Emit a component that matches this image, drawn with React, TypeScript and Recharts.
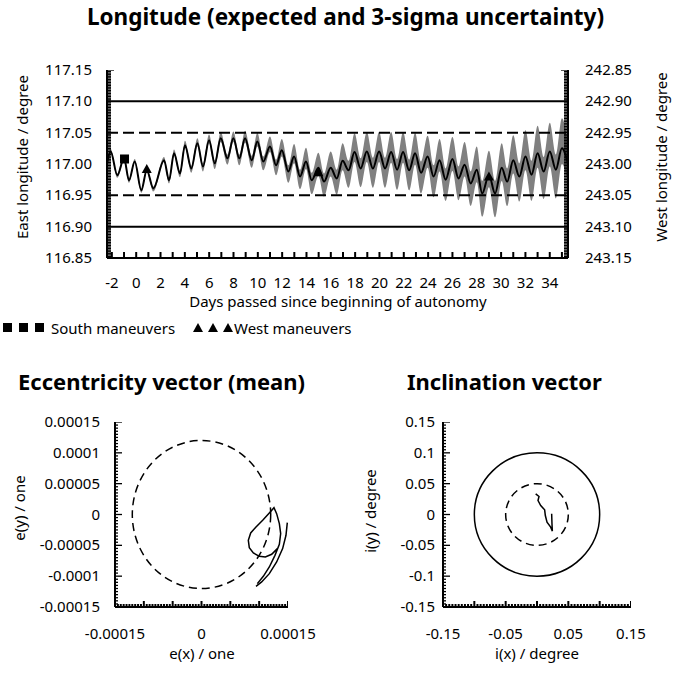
import React from "react";
import {
  Area,
  ComposedChart,
  Line,
  ReferenceArea,
  ReferenceLine,
  Scatter,
  XAxis,
  YAxis,
} from "recharts";

const FONT = "'Noto Sans', 'Open Sans', sans-serif";

// longitude: turning points of the daily oscillation (days since autonomy)
const days = [
  -2.4, -2.1, -1.55, -1.0, -0.59, -0.12, 0.42, 0.87, 1.41, 2.29,
  2.7, 3.11, 3.6, 4.01, 4.53, 5.03, 5.49, 5.99, 6.46, 6.95,
  7.5, 7.99, 8.48, 8.95, 9.5, 9.96, 10.45, 11.0, 11.5, 11.97,
  12.51, 12.98, 13.47, 13.96, 14.43, 14.98, 15.45, 15.99, 16.49, 16.97,
  17.46, 17.95, 18.45, 18.96, 19.46, 19.97, 20.46, 20.96, 21.45, 21.94,
  22.44, 22.93, 23.42, 23.96, 24.45, 24.94, 25.44, 26.0, 26.5, 27.0,
  27.5, 28.0, 28.45, 29.0, 29.5, 30.05, 30.5, 31.0, 31.5, 32.0,
  32.5, 33.0, 33.5, 34.0, 34.5, 35.0, 35.5,
];
const lonMean = [
  117.0, 117.02, 116.982, 117.009, 116.974, 117.004, 116.958, 116.99, 116.961, 117.006,
  116.974, 117.017, 116.985, 117.03, 116.993, 117.033, 116.996, 117.038, 117.001, 117.041,
  117.009, 117.041, 117.009, 117.041, 117.006, 117.036, 117.004, 117.028, 116.998, 117.022,
  116.988, 117.012, 116.98, 117.004, 116.974, 116.994, 116.972, 116.994, 116.977, 117.005,
  116.99, 117.019, 116.993, 117.02, 116.993, 117.02, 116.993, 117.019, 116.991, 117.019,
  116.99, 117.017, 116.986, 117.012, 116.98, 117.006, 116.975, 117.008, 116.977, 116.999,
  116.969, 116.991, 116.953, 116.983, 116.953, 116.994, 116.972, 117.006, 116.98, 117.012,
  116.983, 117.017, 116.988, 117.02, 116.991, 117.025, 117.0,
];
const lonHigh = [
  117.004, 117.024, 116.985, 117.013, 116.977, 117.008, 116.961, 116.994, 116.964, 117.011,
  116.977, 117.023, 116.989, 117.037, 116.997, 117.041, 117.001, 117.047, 117.006, 117.051,
  117.015, 117.052, 117.015, 117.053, 117.013, 117.05, 117.012, 117.044, 117.007, 117.04,
  116.998, 117.032, 116.991, 117.026, 116.986, 117.018, 116.985, 117.02, 116.991, 117.033,
  117.005, 117.049, 117.009, 117.051, 117.01, 117.051, 117.01, 117.051, 117.008, 117.051,
  117.007, 117.05, 117.004, 117.045, 116.998, 117.04, 116.993, 117.043, 116.996, 117.035,
  116.988, 117.028, 116.973, 117.021, 116.973, 117.033, 116.993, 117.046, 117.001, 117.054,
  117.005, 117.061, 117.011, 117.066, 117.015, 117.073, 117.03,
];
const lonLow = [
  116.996, 117.017, 116.978, 117.006, 116.97, 117.001, 116.954, 116.987, 116.956, 117.003,
  116.969, 117.013, 116.979, 117.026, 116.986, 117.028, 116.988, 117.033, 116.992, 117.035,
  116.999, 117.035, 116.998, 117.034, 116.994, 117.028, 116.99, 117.019, 116.982, 117.012,
  116.97, 117.001, 116.96, 116.992, 116.952, 116.981, 116.948, 116.98, 116.951, 116.99,
  116.962, 117.003, 116.963, 117.003, 116.962, 117.003, 116.962, 117.002, 116.959, 117.002,
  116.958, 116.999, 116.953, 116.994, 116.947, 116.988, 116.941, 116.989, 116.942, 116.98,
  116.933, 116.971, 116.916, 116.963, 116.915, 116.973, 116.933, 116.985, 116.94, 116.99,
  116.941, 116.994, 116.944, 116.996, 116.945, 117.0, 116.97,
];

const southDays = [-0.96];
const southLon = [117.008];
const westDays = [0.87, 14.98, 29.0];
const westLon = [116.992, 116.987, 116.98];

const dayDomain = [-2.4, 35.5];
const eastDomain = [116.85, 117.15];
const westDomain = [242.85, 243.15];
const eastLabels = [116.85, 116.9, 116.95, 117.0, 117.05, 117.1, 117.15];
const westLabels = [242.85, 242.9, 242.95, 243.0, 243.05, 243.1, 243.15];
const dayLabels = [-2, 0, 2, 4, 6, 8, 10, 12, 14, 16, 18, 20, 22, 24, 26, 28, 30, 32, 34];

// eccentricity vector (mean)
const eccX1 = [
  9.68e-5, 1.072e-4, 1.176e-4, 1.274e-4, 1.35e-4, 1.373e-4, 1.35e-4, 1.303e-4, 1.257e-4, 1.176e-4,
  1.061e-4, 9.45e-5, 8.53e-5, 8.12e-5, 8.29e-5, 8.99e-5, 1.003e-4, 1.107e-4, 1.217e-4, 1.315e-4,
];
const eccY1 = [
  -1.121e-4, -1.002e-4, -8.51e-5, -6.62e-5, -4.83e-5, -3.1e-5, -1.48e-5, 1.4e-6, 1.11e-5, 2.5e-6,
  -9.4e-6, -2.02e-5, -2.99e-5, -4.18e-5, -5.37e-5, -6.24e-5, -6.78e-5, -6.89e-5, -6.45e-5, -5.53e-5,
];
const eccX2 = [1.488e-4, 1.465e-4, 1.407e-4, 1.303e-4, 1.176e-4, 1.043e-4, 9.45e-5];
const eccY2 = [-1.32e-5, -3.37e-5, -5.53e-5, -7.7e-5, -9.59e-5, -1.094e-4, -1.164e-4];
const eccLimit = 0.00012;
const eccMajor = [-0.00015, -0.0001, -0.00005, 0, 0.00005, 0.0001, 0.00015];
const eccXLabels = [-0.00015, 0, 0.00015];

// inclination vector
const incX = [-0.0021, 0.0032, 0.0016, 0.0059, 0.0122, 0.0133, 0.016, 0.0218, 0.0245, 0.0239, 0.0234];
const incY = [0.0335, 0.0292, 0.0227, 0.0146, 0.0076, -0.0016, -0.0124, -0.0205, -0.027, -0.0151, 0.0011];
const incInner = 0.05;
const incOuter = 0.1;
const incMajor = [-0.15, -0.1, -0.05, 0, 0.05, 0.1, 0.15];
const incXLabels = [-0.15, -0.05, 0.05, 0.15];

function steps(from: number, to: number, step: number) {
  const n = Math.round((to - from) / step);
  return Array.from({ length: n + 1 }, (_, i) => +(from + i * step).toFixed(8));
}
const near = (v: number, list: number[]) => list.some((m) => Math.abs(v - m) < 1e-9);

// tick labels only; the tick marks are drawn by scatter series below
function yLabel(side: "left" | "right", labels: number[], gap: number, fmt: (v: number) => string) {
  return (p: any) => {
    const v = p.payload.value;
    if (!near(v, labels)) return <g />;
    const dir = side === "left" ? 1 : -1;
    return (
      <text x={Number(p.x) - dir * gap} y={Number(p.y)} dy={5} textAnchor={side === "left" ? "end" : "start"} fontSize={15} fontFamily={FONT} fill="#000">
        {fmt(v)}
      </text>
    );
  };
}
function xLabel(labels: number[], dy: number, fmt: (v: number) => string) {
  return (p: any) => {
    const v = p.payload.value;
    if (!near(v, labels)) return <g />;
    return (
      <text x={Number(p.x)} y={Number(p.y) + dy} textAnchor="middle" fontSize={15} fontFamily={FONT} fill="#000">
        {fmt(v)}
      </text>
    );
  };
}

// inward tick marks, longer on major values
const hMark = (dir: number, key: string, major: number[], minorLen: number, majorLen: number) => (p: any) => {
  const len = near(p.payload?.[key], major) ? majorLen : minorLen;
  return <path d={`M${p.cx},${p.cy}H${p.cx + dir * len}`} stroke="#000" strokeWidth={1.3} fill="none" />;
};
const vMark = (key: string, major: number[], minorLen: number, majorLen: number) => (p: any) => {
  const len = near(p.payload?.[key], major) ? majorLen : minorLen;
  return <path d={`M${p.cx},${p.cy}V${p.cy - len}`} stroke="#000" strokeWidth={2} fill="none" />;
};

const ellipse = (dash?: string) => (p: any) => (
  <ellipse
    cx={p.x + p.width / 2}
    cy={p.y + p.height / 2}
    rx={Math.abs(p.width) / 2}
    ry={Math.abs(p.height) / 2}
    fill="none"
    stroke="#000"
    strokeWidth={1.5}
    strokeDasharray={dash}
  />
);

const squareMark = (p: any) => <rect x={p.cx - 4.5} y={p.cy - 4.5} width={9} height={9} fill="#000" />;
const triMark = (p: any) => (
  <polygon points={`${p.cx - 5},${p.cy + 4} ${p.cx + 5},${p.cy + 4} ${p.cx},${p.cy - 5}`} fill="#000" />
);

function VLabel({ x, y, text }: { x: number; y: number; text: string }) {
  return (
    <div style={{ position: "absolute", left: x, top: y, transform: "translate(-50%, -50%) rotate(-90deg)", whiteSpace: "nowrap", fontSize: 15, lineHeight: "16px" }}>
      {text}
    </div>
  );
}
function HLabel({ x, y, text }: { x: number; y: number; text: string }) {
  return (
    <div style={{ position: "absolute", left: x, top: y, transform: "translate(-50%, -50%)", whiteSpace: "nowrap", fontSize: 15, lineHeight: "16px" }}>
      {text}
    </div>
  );
}

const axisLine = { stroke: "#000", strokeWidth: 2 };
const subTitle = { position: "absolute" as const, top: 367, fontSize: 22, fontWeight: 700, lineHeight: "28px", whiteSpace: "nowrap" as const };
const axisCommon = { type: "number" as const, allowDataOverflow: true, interval: 0 as const, tickSize: 0, tickMargin: 0, tickLine: false, axisLine };

export default function App() {
  const lonRows = days.map((d, i) => ({ day: d, mean: lonMean[i], band: [lonLow[i], lonHigh[i]] }));
  const southRows = southDays.map((d, i) => ({ day: d, lon: southLon[i] }));
  const westRows = westDays.map((d, i) => ({ day: d, lon: westLon[i] }));
  const eccPath1 = eccX1.map((x, i) => ({ x, y: eccY1[i] }));
  const eccPath2 = eccX2.map((x, i) => ({ x, y: eccY2[i] }));
  const incPath = incX.map((x, i) => ({ x, y: incY[i] }));

  const eastTicks = steps(eastDomain[0], eastDomain[1], 0.0025);
  const westTicks = steps(westDomain[0], westDomain[1], 0.0025);
  const dayTicks = steps(-2, 35, 1);
  const eccTicks = steps(-0.00015, 0.00015, 0.000005);
  const incTicks = steps(-0.15, 0.15, 0.005);

  return (
    <div style={{ position: "absolute", left: 0, top: 0, width: 691, height: 676, background: "#fff", fontFamily: FONT, color: "#000", overflow: "hidden" }}>
      <div style={{ position: "absolute", left: 0, top: 3, width: 691, textAlign: "center", fontSize: 22.5, fontWeight: 700, lineHeight: "28px" }}>
        Longitude (expected and 3-sigma uncertainty)
      </div>

      <div style={{ position: "absolute", left: 0, top: 0 }}>
        <ComposedChart width={691} height={300} data={lonRows} margin={{ top: 70, right: 63, bottom: 12, left: 47 }}>
          <XAxis {...axisCommon} dataKey="day" domain={dayDomain} ticks={dayTicks} height={30} tick={xLabel(dayLabels, 30, (v) => String(v))} />
          <YAxis {...axisCommon} yAxisId="east" domain={eastDomain} ticks={eastTicks} width={60} tick={yLabel("left", eastLabels, 15, (v) => v.toFixed(2))} />
          <YAxis {...axisCommon} yAxisId="west" orientation="right" reversed domain={westDomain} ticks={westTicks} width={60} tick={yLabel("right", westLabels, 17, (v) => v.toFixed(2))} />
          <Area yAxisId="east" dataKey="band" type="monotone" fill="#808080" fillOpacity={1} stroke="none" isAnimationActive={false} />
          <ReferenceLine yAxisId="east" y={117.1} stroke="#000" strokeWidth={2} />
          <ReferenceLine yAxisId="east" y={116.9} stroke="#000" strokeWidth={2} />
          <ReferenceLine yAxisId="east" y={117.05} stroke="#000" strokeWidth={2} strokeDasharray="11 5" />
          <ReferenceLine yAxisId="east" y={116.95} stroke="#000" strokeWidth={2} strokeDasharray="11 5" />
          <Line yAxisId="east" dataKey="mean" type="monotone" stroke="#000" strokeWidth={2} dot={false} isAnimationActive={false} />
          <Scatter yAxisId="east" data={southRows} dataKey="lon" shape={squareMark} isAnimationActive={false} />
          <Scatter yAxisId="east" data={westRows} dataKey="lon" shape={triMark} isAnimationActive={false} />
          <Scatter yAxisId="east" data={eastTicks.map((v) => ({ day: dayDomain[0], lon: v }))} dataKey="lon" shape={hMark(1, "lon", eastDomain, 4, 7)} isAnimationActive={false} />
          <Scatter yAxisId="west" data={westTicks.map((v) => ({ day: dayDomain[1], lon: v }))} dataKey="lon" shape={hMark(-1, "lon", westDomain, 4, 7)} isAnimationActive={false} />
          <Scatter yAxisId="east" data={dayTicks.map((d) => ({ day: d, lon: eastDomain[0] }))} dataKey="lon" shape={vMark("day", dayTicks, 6, 6)} isAnimationActive={false} />
        </ComposedChart>
      </div>

      <VLabel x={22} y={157} text="East longitude / degree" />
      <VLabel x={661} y={157} text="West longitude / degree" />
      <HLabel x={338} y={301} text="Days passed since beginning of autonomy" />

      <div style={{ position: "absolute", left: 3, top: 318, height: 19, display: "flex", alignItems: "center", fontSize: 15, whiteSpace: "nowrap" }}>
        {[0, 1, 2].map((i) => (
          <span key={i} style={{ display: "inline-block", width: 9, height: 9, background: "#000", marginRight: 7 }} />
        ))}
        <span>South maneuvers</span>
      </div>
      <div style={{ position: "absolute", left: 193, top: 318, height: 19, display: "flex", alignItems: "center", fontSize: 15, whiteSpace: "nowrap" }}>
        {[0, 1, 2].map((i) => (
          <span key={i} style={{ display: "inline-block", width: 0, height: 0, borderLeft: "5px solid transparent", borderRight: "5px solid transparent", borderBottom: "9px solid #000", marginRight: i < 2 ? 5 : 1 }} />
        ))}
        <span>West maneuvers</span>
      </div>

      <div style={{ ...subTitle, left: 18 }}>Eccentricity vector (mean)</div>
      <div style={{ ...subTitle, left: 407 }}>Inclination vector</div>

      <div style={{ position: "absolute", left: 0, top: 380 }}>
        <ComposedChart width={345} height={296} margin={{ top: 42, right: 57, bottom: 39, left: 55 }}>
          <XAxis {...axisCommon} dataKey="x" domain={[-0.00015, 0.00015]} ticks={eccTicks} height={30} tick={xLabel(eccXLabels, 32, (v) => String(v))} />
          <YAxis {...axisCommon} domain={[-0.00015, 0.00015]} ticks={eccTicks} width={60} tick={yLabel("left", eccMajor, 15, (v) => String(v))} />
          <ReferenceArea x1={-eccLimit} x2={eccLimit} y1={-eccLimit} y2={eccLimit} shape={ellipse("8 5")} />
          <Line data={eccPath1} dataKey="y" type="linear" stroke="#000" strokeWidth={1.5} dot={false} isAnimationActive={false} />
          <Line data={eccPath2} dataKey="y" type="linear" stroke="#000" strokeWidth={1.5} dot={false} isAnimationActive={false} />
          <Scatter data={eccTicks.map((v) => ({ x: -0.00015, y: v }))} dataKey="y" shape={hMark(1, "y", eccMajor, 3, 7)} isAnimationActive={false} />
          <Scatter data={eccTicks.map((v) => ({ x: v, y: -0.00015 }))} dataKey="y" shape={vMark("x", eccMajor, 3, 6)} isAnimationActive={false} />
        </ComposedChart>
      </div>
      <VLabel x={19} y={508} text="e(y) / one" />
      <HLabel x={202} y={653} text="e(x) / one" />

      <div style={{ position: "absolute", left: 345, top: 380 }}>
        <ComposedChart width={346} height={296} margin={{ top: 42, right: 60, bottom: 39, left: 38 }}>
          <XAxis {...axisCommon} dataKey="x" domain={[-0.15, 0.15]} ticks={incTicks} height={30} tick={xLabel(incXLabels, 32, (v) => String(v))} />
          <YAxis {...axisCommon} domain={[-0.15, 0.15]} ticks={incTicks} width={60} tick={yLabel("left", incMajor, 8, (v) => String(v))} />
          <ReferenceArea x1={-incOuter} x2={incOuter} y1={-incOuter} y2={incOuter} shape={ellipse()} />
          <ReferenceArea x1={-incInner} x2={incInner} y1={-incInner} y2={incInner} shape={ellipse("8 5")} />
          <Line data={incPath} dataKey="y" type="linear" stroke="#000" strokeWidth={1.5} dot={false} isAnimationActive={false} />
          <Scatter data={incTicks.map((v) => ({ x: -0.15, y: v }))} dataKey="y" shape={hMark(1, "y", incMajor, 3, 7)} isAnimationActive={false} />
          <Scatter data={incTicks.map((v) => ({ x: v, y: -0.15 }))} dataKey="y" shape={vMark("x", incMajor, 3, 6)} isAnimationActive={false} />
        </ComposedChart>
      </div>
      <VLabel x={370} y={511} text="i(y) / degree" />
      <HLabel x={537} y={653} text="i(x) / degree" />
    </div>
  );
}
